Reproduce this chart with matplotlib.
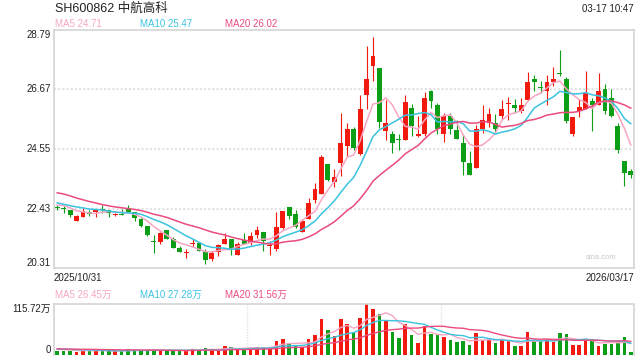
# -*- coding: utf-8 -*-
"""K-line chart SH600862 with MA and volume panel"""

import matplotlib
matplotlib.use('Agg')
import matplotlib.pyplot as plt
import numpy as np
import pandas as pd

plt.rcParams['font.family'] = ['Liberation Sans', 'Noto Sans CJK SC', 'DejaVu Sans']

title = 'SH600862 中航高科'
stamp = '03-17 10:47'
date_first = '2025/10/31'
date_last = '2026/03/17'

# daily OHLC (yuan), 90 sessions
opens = [22.47, 22.44, 22.36, 21.98, 22.12, 22.32, 22.29, 22.41, 22.38, 22.21,
         22.23, 22.44, 22.32, 22.06, 21.82, 21.27, 21.23, 21.65, 21.35, 21.01,
         20.86, 21.16, 21.21, 20.91, 20.64, 20.87, 21.18, 21.36, 20.79, 21.30,
         21.21, 21.50, 21.59, 21.10, 20.97, 21.75, 22.48, 22.25, 21.59, 22.06,
         22.75, 22.95, 24.03, 23.39, 24.06, 24.67, 25.28, 24.38, 26.46, 27.52,
         27.42, 25.18, 25.10, 24.91, 24.86, 26.00, 25.03, 25.07, 26.61, 26.10,
         25.07, 25.71, 25.24, 24.77, 24.06, 23.88, 25.28, 25.48, 25.48, 25.74,
         26.15, 26.10, 25.90, 26.31, 27.03, 26.74, 26.61, 26.93, 27.24, 27.03,
         25.10, 25.90, 25.96, 26.25, 26.13, 26.67, 26.37, 25.36, 24.12, 23.76]
closes = [22.44, 22.42, 22.19, 22.15, 22.35, 22.24, 22.36, 22.38, 22.28, 22.23,
          22.21, 22.31, 22.08, 21.82, 21.48, 21.22, 21.54, 21.35, 21.02, 20.87,
          20.89, 21.18, 20.91, 20.61, 20.85, 21.12, 21.33, 20.97, 21.15, 21.18,
          21.44, 21.68, 21.27, 21.14, 21.76, 22.33, 22.16, 21.76, 22.00, 22.61,
          23.11, 24.26, 23.46, 23.56, 24.77, 25.28, 24.59, 25.99, 27.03, 27.88,
          25.50, 25.46, 24.75, 24.86, 26.21, 25.36, 25.10, 26.35, 26.25, 25.27,
          25.71, 25.28, 24.89, 24.08, 23.64, 25.28, 25.60, 25.78, 25.28, 25.96,
          26.18, 26.00, 26.13, 26.93, 26.93, 26.72, 26.93, 27.06, 27.21, 25.54,
          25.68, 26.05, 26.55, 26.13, 26.61, 25.92, 25.72, 24.51, 23.68, 23.64]
highs = [22.54, 22.51, 22.39, 22.21, 22.45, 22.37, 22.36, 22.54, 22.38, 22.28,
         22.43, 22.56, 22.32, 22.10, 21.82, 21.47, 21.61, 21.65, 21.42, 21.09,
         20.97, 21.33, 21.23, 20.97, 20.91, 21.17, 21.56, 21.36, 21.23, 21.54,
         21.60, 21.82, 21.59, 21.27, 22.32, 22.33, 22.48, 22.39, 22.06, 22.80,
         23.35, 24.35, 24.03, 23.84, 25.84, 25.48, 25.35, 26.49, 28.21, 28.53,
         27.42, 26.31, 25.18, 25.07, 26.49, 26.17, 25.72, 26.57, 26.64, 26.20,
         25.84, 25.84, 25.60, 25.07, 24.47, 25.42, 26.10, 26.02, 25.78, 26.28,
         26.41, 26.34, 26.37, 27.29, 27.20, 26.96, 27.17, 27.48, 28.07, 27.11,
         25.68, 26.34, 27.32, 26.37, 27.26, 26.87, 26.69, 25.48, 24.12, 23.82]
lows = [22.36, 22.28, 22.12, 21.98, 22.12, 22.18, 22.12, 22.28, 22.12, 22.16,
        22.19, 22.28, 21.98, 21.78, 21.44, 20.84, 21.15, 21.33, 21.01, 20.87,
        20.67, 21.07, 20.90, 20.47, 20.55, 20.73, 21.18, 20.78, 20.78, 21.18,
        21.14, 21.39, 20.91, 20.76, 20.90, 21.71, 22.06, 21.74, 21.59, 22.04,
        22.61, 22.95, 23.40, 23.20, 23.58, 24.29, 24.53, 24.35, 25.96, 26.97,
        25.30, 24.86, 24.41, 24.53, 24.86, 25.01, 24.98, 25.03, 26.02, 25.07,
        24.79, 25.07, 24.89, 23.62, 23.62, 23.88, 25.13, 25.34, 25.13, 25.63,
        25.58, 25.84, 25.84, 26.25, 26.61, 26.53, 26.13, 26.79, 27.14, 25.48,
        25.03, 25.70, 25.96, 25.18, 26.13, 25.78, 25.70, 24.39, 23.22, 23.50]
# volume, in 万 shares
volumes = [9.9, 9.9, 9.9, 7.6, 12.9, 9.1, 10.6, 9.1, 9.1, 9.1,
           9.1, 13.7, 11.4, 9.9, 11.4, 12.9, 10.6, 9.9, 9.9, 9.9,
           9.9, 13.7, 11.4, 16.7, 11.4, 9.9, 20.5, 18.3, 12.9, 13.7,
           16.7, 19.0, 18.3, 15.2, 32.7, 37.3, 25.1, 22.1, 17.5, 36.5,
           46.4, 82.2, 57.1, 43.4, 82.2, 70.7, 51.0, 84.4, 115.72, 105.0,
           93.6, 79.9, 52.5, 38.8, 70.7, 45.6, 27.4, 66.2, 47.9, 45.6,
           41.1, 34.2, 29.7, 31.9, 22.8, 50.2, 34.2, 34.2, 27.4, 34.2,
           31.9, 20.5, 20.5, 52.5, 31.9, 31.9, 36.5, 29.7, 50.2, 47.9,
           22.8, 22.8, 34.2, 36.5, 20.5, 25.1, 25.1, 31.9, 41.1, 6.8]

# sessions before the window (estimated from where the MA lines start)
pre_close = [23.3, 23.5, 23.7, 23.6, 23.5, 23.4, 23.5, 23.2, 23.0, 22.8,
             22.9, 22.7, 22.6, 22.7, 22.65, 22.5, 22.6, 22.65, 22.56]
pre_vol = [14, 16, 13, 15, 12, 14, 17, 13, 12, 15,
           14, 13, 15, 16, 14, 13, 15, 14, 13]

# values printed in the legends
ma_periods = [5, 10, 20]
ma_last = [24.71, 25.47, 26.02]
vma_last = [26.45, 27.28, 31.56]

price_ticks = [28.79, 26.67, 24.55, 22.43, 20.31]
vol_max = 115.72

RED = '#f2190f'
GREEN = '#0c9e17'
C_MA5 = '#f7a6c4'
C_MA10 = '#3cc3e0'
C_MA20 = '#eb4b7d'
GRID = '#e2e2e2'
FRAME = '#d4d4d4'

n = len(closes)
x = np.arange(n)
o = np.array(opens)
c = np.array(closes)
up = c >= o
colors = np.where(up, RED, GREEN)

cs = pd.Series(pre_close + closes)
vs = pd.Series(pre_vol + volumes)
ma = {k: cs.rolling(k).mean().values[-n:] for k in ma_periods}
vma = {k: vs.rolling(k).mean().values[-n:] for k in ma_periods}

fig = plt.figure(figsize=(6.4, 3.6), dpi=100)
ax = fig.add_axes([54 / 640, 1 - 268 / 360, 580 / 640, 238 / 360])
axv = fig.add_axes([54 / 640, 1 - 355 / 360, 580 / 640, 51 / 360])

# --- price panel
for y in price_ticks[1:-1]:
    ax.axhline(y, color=GRID, lw=1.5, ls=(0, (1, 1)), zorder=0)

ax.vlines(x, lows, highs, colors=colors, lw=0.8, zorder=2)
body = np.maximum(np.abs(c - o), 0.035)
ax.bar(x, body, bottom=np.minimum(o, c), width=0.75, color=colors, lw=0, zorder=3)

ax.plot(x, ma[5], color=C_MA5, lw=1.1, zorder=4)
ax.plot(x, ma[10], color=C_MA10, lw=1.1, zorder=4)
ax.plot(x, ma[20], color=C_MA20, lw=1.1, zorder=4)

ax.set_xlim(-0.5, n - 0.5)
ax.set_ylim(price_ticks[-1], price_ticks[0])
ax.set_xticks([])
ax.set_yticks([])
for s in ax.spines.values():
    s.set_color(FRAME)
    s.set_linewidth(1.2)

tr = ax.get_yaxis_transform()
for i, y in enumerate(price_ticks):
    va = 'top' if i == 0 else ('bottom' if i == len(price_ticks) - 1 else 'center')
    ax.text(-0.006, y, f'{y:.2f}', transform=tr, ha='right', va=va,
            fontsize=7, color='#222222')

ax.text(0.0, -0.02, date_first, transform=ax.transAxes, ha='left', va='top',
        fontsize=7, color='#222222')
ax.text(1.0, -0.02, date_last, transform=ax.transAxes, ha='right', va='top',
        fontsize=7, color='#222222')
ax.text(0.944, 0.045, 'sina.com', transform=ax.transAxes, ha='center',
        va='center', fontsize=5.5, color='#c8c8c8')

# --- headings
fig.text(55 / 640, 1 - 9 / 360, title, ha='left', va='center', fontsize=9,
         color='#222222')
fig.text(634 / 640, 1 - 9 / 360, stamp, ha='right', va='center', fontsize=7,
         color='#222222')
leg_x = [55, 140, 225]
for xx, k, m, vm, col in zip(leg_x, ma_periods, ma_last, vma_last,
                             (C_MA5, C_MA10, C_MA20)):
    fig.text(xx / 640, 1 - 24 / 360, f'MA{k} {m:.2f}', ha='left',
             va='center', fontsize=7, color=col)
    fig.text(xx / 640, 1 - 295 / 360, f'MA{k} {vm:.2f}万', ha='left',
             va='center', fontsize=7, color=col)

# --- volume panel
axv.bar(x, volumes, width=0.55, color=colors, lw=0, zorder=2)
axv.plot(x, vma[5], color=C_MA5, lw=1.0, zorder=3)
axv.plot(x, vma[10], color=C_MA10, lw=1.0, zorder=3)
axv.plot(x, vma[20], color=C_MA20, lw=1.0, zorder=3)
for f in (1 / 3, 2 / 3):
    axv.axvline(-0.5 + n * f, color=GRID, lw=1.0, ls=(0, (1, 1)), zorder=0)
axv.set_xlim(-0.5, n - 0.5)
axv.set_ylim(0, vol_max)
axv.set_xticks([])
axv.set_yticks([])
for s in axv.spines.values():
    s.set_color(FRAME)
    s.set_linewidth(1.2)
axv.spines['top'].set_linestyle((0, (1, 1)))
axv.spines['bottom'].set_visible(False)
axv.text(-0.006, 1.0, f'{vol_max:.2f}万', transform=axv.transAxes, ha='right',
         va='top', fontsize=7, color='#222222')
axv.text(-0.006, 0.0, '0', transform=axv.transAxes, ha='right', va='bottom',
         fontsize=7, color='#222222')

fig.savefig('out.png', dpi=100)
